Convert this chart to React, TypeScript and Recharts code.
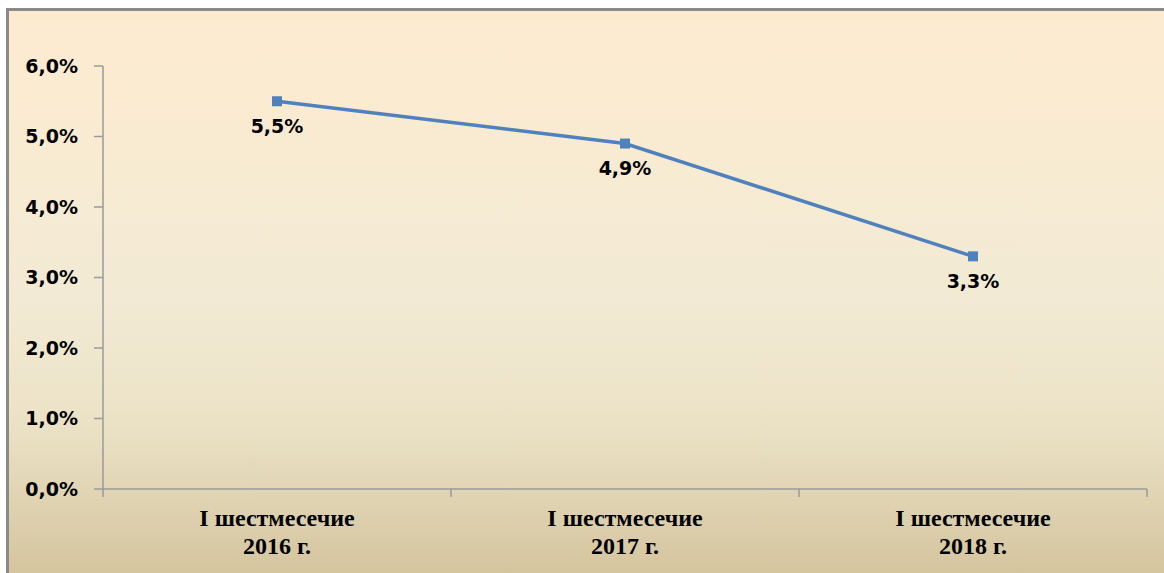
import React from "react";
import { LineChart, Line, XAxis, YAxis, LabelList } from "recharts";

const categories = ["I шестмесечие\n2016 г.", "I шестмесечие\n2017 г.", "I шестмесечие\n2018 г."];
const values = [5.5, 4.9, 3.3];
const yTicks = [0, 1, 2, 3, 4, 5, 6];

const data = categories.map((name, i) => ({ name, value: values[i] }));

const W = 1164;
const H = 573;
const MARGIN = { top: 66, right: 17, bottom: 0, left: 0 };
const Y_AXIS_W = 103;
const X_AXIS_H = 84;
const PLOT_W = W - MARGIN.left - MARGIN.right - Y_AXIS_W;
const HALF_BAND = PLOT_W / categories.length / 2;

const fmt = (v: number) => v.toFixed(1).replace(".", ",") + "%";

const XTick = (props: any) => {
  const { x, y, payload, index } = props;
  const lines = String(payload.value).split("\n");
  const last = index === categories.length - 1;
  return (
    <g>
      <line x1={x - HALF_BAND} x2={x - HALF_BAND} y1={y - 8} y2={y} stroke="#9a9a9a" strokeWidth={1.5} />
      {last && (
        <line x1={x + HALF_BAND} x2={x + HALF_BAND} y1={y - 8} y2={y} stroke="#9a9a9a" strokeWidth={1.5} />
      )}
      {lines.map((l, i) => (
        <text
          key={i}
          x={x}
          y={y + 29 + i * 28}
          textAnchor="middle"
          fontFamily="'Liberation Serif', 'Times New Roman', serif"
          fontWeight="bold"
          fontSize={24}
          fill="#000"
        >
          {l}
        </text>
      ))}
    </g>
  );
};

export default function App() {
  return (
    <div style={{ position: "absolute", left: 0, top: 0, width: W, height: H, overflow: "hidden", background: "#fff" }}>
      <div
        style={{
          position: "absolute",
          left: 6,
          top: 8,
          width: W,
          height: H,
          borderLeft: "3px solid #8a8a8a",
          borderTop: "3px solid #8a8a8a",
          background:
            "linear-gradient(to bottom, #fdebd0 0%, #f8ebd2 25%, #f2ead4 50%, #ebe2c6 72%, #ddd0ae 88%, #d3c39c 100%)",
        }}
      />
      <div style={{ position: "absolute", left: 0, top: 0 }}>
        <LineChart width={W} height={H} data={data} margin={MARGIN}>
          <XAxis
            dataKey="name"
            height={X_AXIS_H}
            padding={{ left: HALF_BAND, right: HALF_BAND }}
            axisLine={{ stroke: "#9a9a9a", strokeWidth: 1.5 }}
            tickLine={false}
            tickSize={8}
            tickMargin={0}
            tick={<XTick />}
            interval={0}
          />
          <YAxis
            width={Y_AXIS_W}
            domain={[0, 6]}
            ticks={yTicks}
            tickFormatter={fmt}
            axisLine={{ stroke: "#9a9a9a", strokeWidth: 1.5 }}
            tickLine={{ stroke: "#9a9a9a", strokeWidth: 1.5 }}
            tickSize={9}
            tickMargin={16}
            tick={{ fill: "#000", fontSize: 19, fontWeight: "bold", fontFamily: "'DejaVu Sans', Verdana, sans-serif" }}
          />
          <Line
            type="linear"
            dataKey="value"
            stroke="#4f81bd"
            strokeWidth={3.5}
            isAnimationActive={false}
            dot={(p: any) => (
              <rect key={p.index} x={p.cx - 5} y={p.cy - 5} width={10} height={10} fill="#4f81bd" />
            )}
            activeDot={false}
          >
            <LabelList
              dataKey="value"
              position="bottom"
              offset={18}
              formatter={(v: any) => fmt(Number(v))}
              style={{ fill: "#000", fontSize: 19, fontWeight: "bold", fontFamily: "'DejaVu Sans', Verdana, sans-serif" }}
            />
          </Line>
        </LineChart>
      </div>
    </div>
  );
}
